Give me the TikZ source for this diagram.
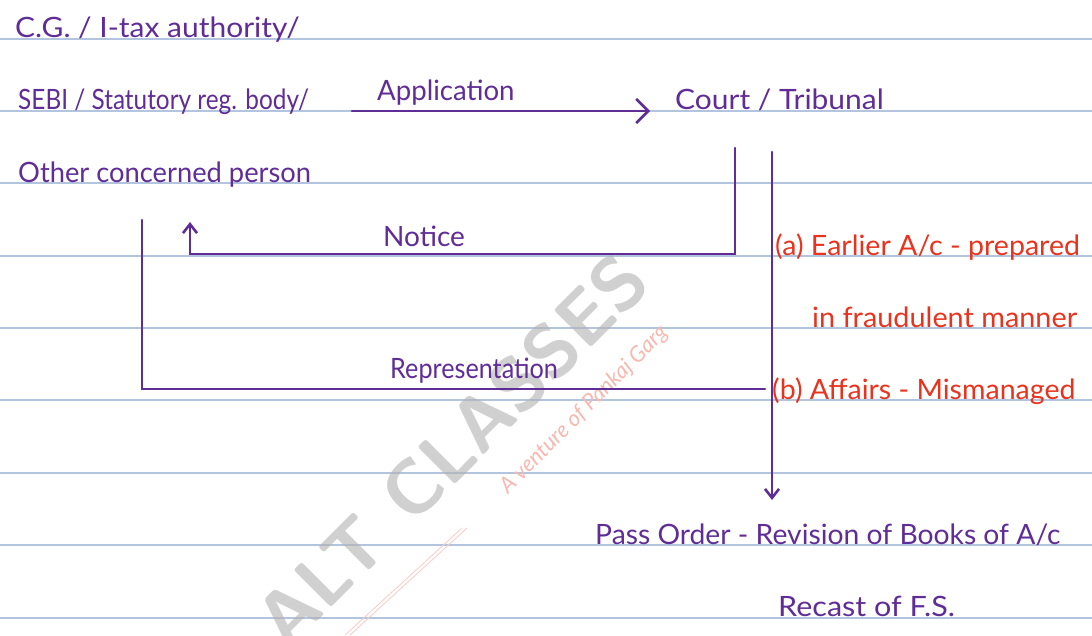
\documentclass[tikz,border=0pt]{standalone}
\usepackage{fontspec}
\setmainfont{Lato}
\usetikzlibrary{arrows.meta}
\definecolor{pcol}{RGB}{96,44,150}
\definecolor{rcol}{RGB}{232,52,30}
\definecolor{rule}{RGB}{178,196,222}
\newcommand{\sx}[2]{\scalebox{#1}[1]{#2}}
\tikzset{
  hw/.style={inner sep=0pt, text=pcol, font=\fontsize{28}{32}\selectfont},
  hwred/.style={hw, text=rcol},
  conn/.style={draw=pcol, line width=2.6pt, line cap=round, line join=miter},
  bighead/.style={-{Straight Barb[length=12pt,width=24pt,line width=2.6pt]}},
  smallhead/.style={-{Straight Barb[length=9pt,width=14pt,line width=2.6pt]}},
  ruleline/.style={draw=rule, line width=1.2pt}
}
\begin{document}
\begin{tikzpicture}[x=1pt,y=-1pt]
\path[use as bounding box, fill=white] (0,0) rectangle (1092,635);
% ruled lines
\foreach \yy in {39,111,183,256,328,400,473,545,618} {
  \draw[ruleline] (0,\yy) -- (1092,\yy);
}
% watermark
\node[rotate=45, text=gray!60, opacity=0.6, font=\sffamily\bfseries\fontsize{76}{80}\selectfont, inner sep=0pt] (wm) at (452,450) {ALT CLASSES};
\node[rotate=45, text=rcol!35, font=\itshape\fontsize{22}{26}\selectfont, inner sep=0pt] (wm2) at (584,410) {A venture of Pankaj Garg};
\coordinate (wl1) at (345,635);
\coordinate (wl2) at (462,528);
\draw[rcol!25, line width=0.8pt] (wl1) -- (wl2);
\draw[rcol!25, line width=0.8pt] ([xshift=5pt]wl1) -- ([xshift=5pt]wl2);
% texts
\node[hw, anchor=base west] (cg) at (15,37) {\sx{1.07}{C.G. / I-tax authority/}};
\node[hw, anchor=base west] (sebi) at (18,109) {\sx{0.87}{SEBI / Statutory reg. body/}};
\node[hw, anchor=base west] (other) at (18,182) {\sx{0.975}{Other concerned person}};
\node[hw, anchor=base west] (applbl) at (377,100) {\sx{0.985}{Application}};
\node[hw, anchor=base west] (court) at (675,109) {\sx{1.07}{Court / Tribunal}};
\node[hw, anchor=base west] (notice) at (383,246) {Notice};
\node[hw, anchor=base west] (repr) at (390,378) {\sx{0.9}{Representation}};
\node[hwred, anchor=base west] (ra) at (775,255) {\sx{1.02}{(a) Earlier A/c - prepared}};
\node[hwred, anchor=base west] (rb) at (812,327) {\sx{1.03}{in fraudulent manner}};
\node[hwred, anchor=base west] (rc) at (772,399) {\sx{1.02}{(b) Affairs - Mismanaged}};
\node[hw, anchor=base west] (pass) at (595,544) {\sx{1.01}{Pass Order - Revision of Books of A/c}};
\node[hw, anchor=base west] (recast) at (778,616) {\sx{1.09}{Recast of F.S.}};
% connector points
\coordinate (appS) at (352,111);
\coordinate (appE) at (650,111);
\coordinate (nS) at (735,148);
\coordinate (nC1) at (735,254);
\coordinate (nC2) at (190,254);
\coordinate (nE) at (190,222);
\coordinate (rS) at (142,220);
\coordinate (rC) at (142,389);
\coordinate (rE) at (765,389);
\coordinate (mS) at (772,152);
\coordinate (mE) at (772,500);
% connectors
\draw[conn, bighead] (appS) -- (appE);
\draw[conn, smallhead] (nS) -- (nC1) -- (nC2) -- (nE);
\draw[conn] (rS) -- (rC) -- (rE);
\draw[conn, smallhead] (mS) -- (mE);
\end{tikzpicture}
\end{document}
